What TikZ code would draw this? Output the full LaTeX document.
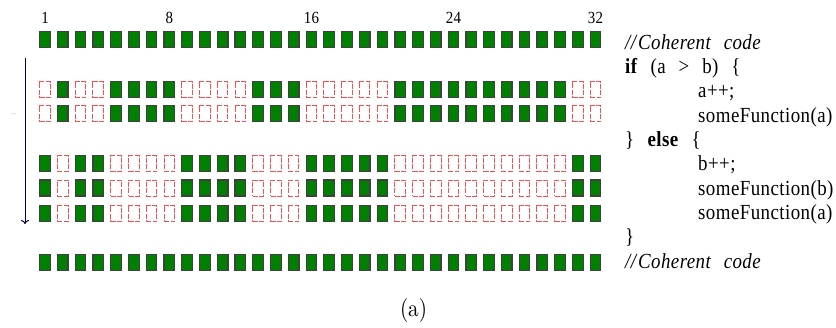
\documentclass[tikz,border=0pt]{standalone}
\usepackage{fontspec}
\setmainfont{Liberation Serif}[FakeStretch=0.88, LetterSpace=2, WordSpace=2.5]
\newfontfamily\capfont{lmroman10-regular.otf}[FakeStretch=0.88]
\usetikzlibrary{arrows.meta}
\tikzset{
  activelane/.style={rectangle, draw=black!75, fill=green!50!black, line width=1.2pt, minimum width=10.6pt, minimum height=16pt, inner sep=0pt},
  idlelane/.style={rectangle, draw=red!70, fill=white, line width=1pt, dash pattern=on 5pt off 1.5pt, minimum width=10.6pt, minimum height=16pt, inner sep=0pt},
  codeline/.style={anchor=base west, inner sep=0pt, font=\fontsize{21.5}{24}\selectfont},
  lanelabel/.style={anchor=base, inner sep=0pt, font=\fontsize{17}{20}\selectfont},
  flow/.style={black!75!blue, line width=1pt, -{To[length=4pt,width=8pt]}}
}
% lanes that take the "if" branch / the "else" branch
\def\thenlanes{2,5,6,7,8,13,14,15,21,22,23,24,25,26,27,28,29,30}
\def\elselanes{1,3,4,9,10,11,12,16,17,18,19,20,31,32}

\begin{document}
\begin{tikzpicture}[x=1pt, y=-1pt]
  \useasboundingbox (0,0) rectangle (836,327);

  \foreach \c in {1,8,16,24,32} {
    \node[lanelabel] (n\c) at ({45+(\c-1)*17.76},23.3) {\c};
  }

  % coherent rows: all lanes active
  \foreach \r/\y in {1/39.7, 7/262.8} {
    \foreach \c in {1,...,32} {
      \node[activelane] (l\r-\c) at ({45+(\c-1)*17.76},\y) {};
    }
  }
  % if branch
  \foreach \r/\y in {2/89.5, 3/113.5} {
    \foreach \c in \thenlanes {
      \node[activelane] (l\r-\c) at ({45+(\c-1)*17.76},\y) {};
    }
    \foreach \c in \elselanes {
      \node[idlelane] (l\r-\c) at ({45+(\c-1)*17.76},\y) {};
    }
  }
  % else branch
  \foreach \r/\y in {4/163.7, 5/188, 6/213.5} {
    \foreach \c in \elselanes {
      \node[activelane] (l\r-\c) at ({45+(\c-1)*17.76},\y) {};
    }
    \foreach \c in \thenlanes {
      \node[idlelane] (l\r-\c) at ({45+(\c-1)*17.76},\y) {};
    }
  }

  \coordinate (flowtop) at (25,58);
  \coordinate (flowend) at (25,224);
  \draw[flow] (flowtop) -- (flowend);
  \node[anchor=base, inner sep=0pt, text=gray!60, font=\fontsize{10}{12}\selectfont] (dots) at (13.5,114) {..};

  \node[codeline] (c1) at (625,49.3) {\textit{//\hspace{2pt}Coherent code}};
  \node[codeline] (c2) at (625,73.6) {\textbf{if} (a > b) \{};
  \node[codeline] (c3) at (698,97.9) {a++;};
  \node[codeline] (c4) at (698,122.3) {someFunction(a)};
  \node[codeline] (c5) at (625,146.6) {\} \textbf{else} \{};
  \node[codeline] (c6) at (698,170.9) {b++;};
  \node[codeline] (c7) at (698,195.3) {someFunction(b)};
  \node[codeline] (c8) at (698,219.6) {someFunction(a)};
  \node[codeline] (c9) at (625,243.9) {\}};
  \node[codeline] (c10) at (625,268.3) {\textit{//\hspace{2pt}Coherent code}};

  \node[anchor=base, inner sep=0pt, font=\capfont\fontsize{24}{28}\selectfont] (cap) at (413.5,316) {(a)};
\end{tikzpicture}
\end{document}
